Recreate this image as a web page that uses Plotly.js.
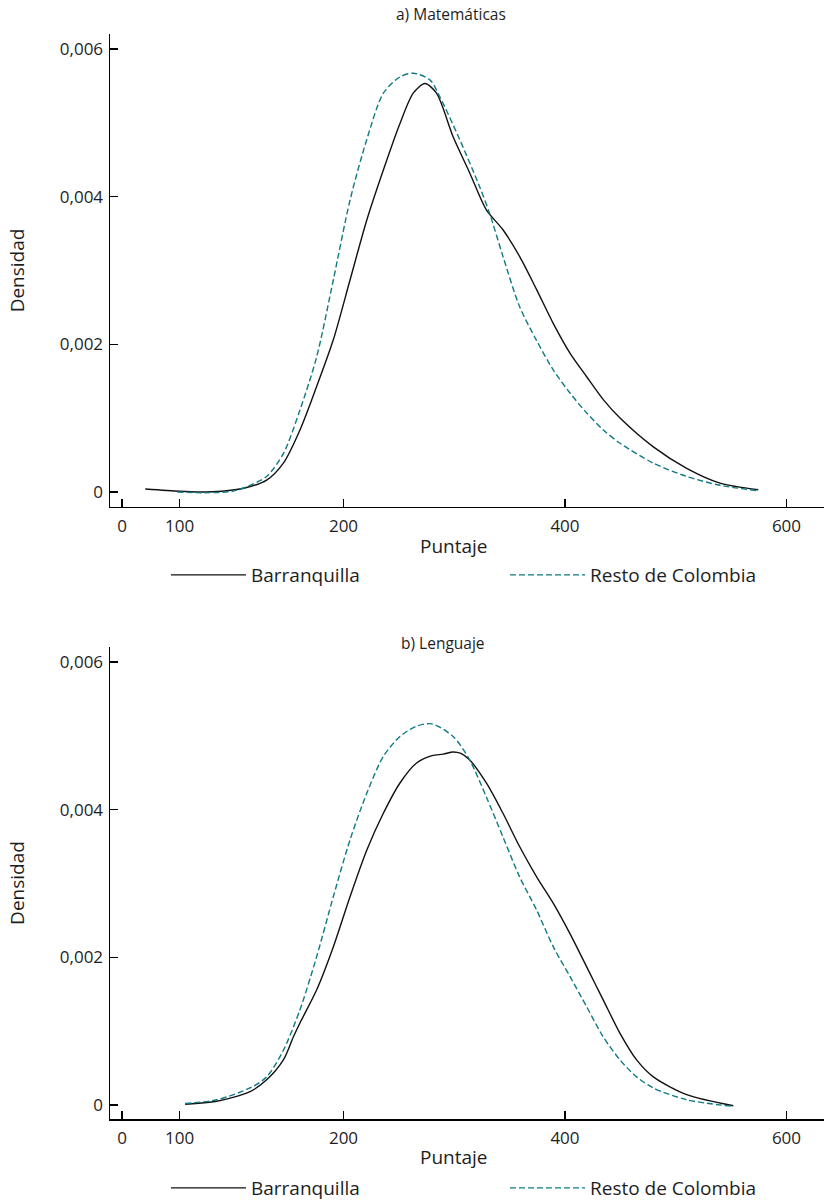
<!DOCTYPE html>
<html>
<head>
<meta charset="utf-8">
<script src="https://cdn.plot.ly/plotly-3.0.1.min.js"></script>
<style>html,body{margin:0;padding:0;background:#fff;}#chart{width:824px;height:1202px;}</style>
</head>
<body>
<div id="chart"></div>
<script>
// a) Matemáticas
const mathBarrX = [21, 52, 70, 90, 110, 130.6, 145.7, 160.7, 175.8, 190.8, 205.9, 221, 236, 251, 263, 273.6, 284, 299, 314, 329, 344, 359, 374.4, 389.5, 404.5, 419.6, 434.6, 449.7, 479.8, 509.9, 540, 574.5];
const mathBarrY = [0.00004, 0.00001, 0.0, 0.00001, 0.00005, 0.00016, 0.00039, 0.00084, 0.00143, 0.00206, 0.00287, 0.00368, 0.00436, 0.00499, 0.0054, 0.00553, 0.0054, 0.00481, 0.00432, 0.00382, 0.00355, 0.00319, 0.00274, 0.00228, 0.00188, 0.00156, 0.00125, 0.001, 0.00061, 0.00032, 0.00012, 0.00003];
const mathRestX = [50, 75, 100, 115.6, 130.6, 145.7, 160.7, 175.8, 190.8, 205.9, 221, 236, 251, 263, 278, 287, 305, 323, 332, 344, 359, 374, 389.5, 404.5, 419.6, 434.6, 449.7, 479.8, 509.9, 540, 573];
const mathRestY = [0.0, -0.00001, 0.00001, 0.00009, 0.00021, 0.00052, 0.00111, 0.00183, 0.00287, 0.00395, 0.00477, 0.0054, 0.00562, 0.00567, 0.00558, 0.00535, 0.00477, 0.00413, 0.00377, 0.00319, 0.00251, 0.00206, 0.00165, 0.00134, 0.00107, 0.00084, 0.00066, 0.00039, 0.00021, 0.00009, 0.00002];

// b) Lenguaje
const langBarrX = [57, 85.5, 115.6, 130.6, 145.7, 154.7, 160.7, 175.8, 190.8, 205.9, 221, 236, 251, 266, 280, 290, 299, 306, 314, 329, 344, 359, 374.4, 389.5, 404.5, 419.6, 434.6, 449.7, 464.7, 479.8, 509.9, 552];
const langBarrY = [0.00001, 0.00005, 0.00018, 0.00034, 0.00061, 0.00092, 0.00111, 0.00156, 0.00214, 0.00282, 0.00345, 0.00395, 0.00436, 0.00463, 0.00473, 0.00475, 0.00478, 0.00476, 0.00467, 0.00436, 0.00395, 0.0035, 0.00309, 0.00273, 0.00232, 0.00187, 0.00142, 0.00097, 0.00061, 0.00038, 0.00014, -0.00001];
const langRestX = [57, 85.5, 115.6, 130.6, 145.7, 160.7, 175.8, 190.8, 205.9, 221, 236, 251, 266, 280, 299, 314, 329, 344, 359, 374.4, 389.5, 404.5, 419.6, 434.6, 449.7, 464.7, 479.8, 509.9, 552];
const langRestY = [0.00002, 0.00007, 0.00023, 0.00038, 0.00074, 0.00129, 0.00201, 0.00282, 0.00359, 0.00422, 0.00472, 0.00499, 0.00513, 0.00516, 0.00499, 0.00467, 0.00417, 0.00363, 0.00309, 0.00264, 0.00214, 0.00174, 0.00133, 0.00092, 0.00061, 0.00038, 0.00023, 0.00007, -0.00002];

const xTickVals = [0, 52, 200, 400, 600];
const xTickText = ['0', '100', '200', '400', '600'];
const yTickVals = [0, 0.002, 0.004, 0.006];
const yTickText = ['0', '0,002', '0,004', '0,006'];

const seriesNames = ['Barranquilla', 'Resto de Colombia'];
const panelTitles = ['a) Matemáticas', 'b) Lenguaje'];

const FONT = '"Open Sans", Lato, sans-serif';
const TXT = '#1e1e1e';
const BLACK = '#111111';
const TEAL = '#0f7a82';

function line(x, y, name, xa, ya, color, dash, legend) {
  return {
    x: x, y: y, name: name, type: 'scatter', mode: 'lines',
    xaxis: xa, yaxis: ya, legend: legend,
    line: {color: color, width: 1.4, dash: dash, shape: 'spline', smoothing: 0.8},
    hoverinfo: 'skip'
  };
}

const data = [
  line(mathBarrX, mathBarrY, seriesNames[0], 'x', 'y', BLACK, 'solid', 'legend'),
  line(mathRestX, mathRestY, seriesNames[1], 'x', 'y', TEAL, '6px,3px', 'legend2'),
  line(langBarrX, langBarrY, seriesNames[0], 'x2', 'y2', BLACK, 'solid', 'legend3'),
  line(langRestX, langRestY, seriesNames[1], 'x2', 'y2', TEAL, '6px,3px', 'legend4')
];

function xaxis(anchor) {
  return {
    anchor: anchor, domain: [0, 1], range: [-10.84, 633.9],
    showline: true, linecolor: '#000', linewidth: 1.5, mirror: false,
    ticks: 'inside', ticklen: 8, tickwidth: 1.2, tickcolor: '#000',
    tickvals: xTickVals, ticktext: xTickText,
    showgrid: false, zeroline: false, fixedrange: true,
    ticklabelstandoff: 3,
    tickfont: {family: FONT, size: 17, color: TXT}
  };
}
function yaxis(anchor, domain, range) {
  return {
    anchor: anchor, domain: domain, range: range,
    showline: true, linecolor: '#000', linewidth: 1.5,
    ticks: 'inside', ticklen: 8, tickwidth: 1.5, tickcolor: '#000',
    tickvals: yTickVals, ticktext: yTickText,
    showgrid: false, zeroline: false, fixedrange: true,
    ticklabelstandoff: 2,
    tickfont: {family: FONT, size: 17, color: TXT},
    title: {text: 'Densidad', font: {family: FONT, size: 19, color: TXT}, standoff: 30}
  };
}

function legendAt(px, py) {
  return {
    orientation: 'h', xanchor: 'left', yanchor: 'middle',
    x: (px - 110) / 714, y: (1119 - py) / 1085,
    font: {family: FONT, size: 19, color: TXT},
    bgcolor: 'rgba(0,0,0,0)', itemwidth: 75
  };
}

const layout = {
  width: 824, height: 1202,
  margin: {l: 110, r: 0, t: 34, b: 83, autoexpand: false},
  paper_bgcolor: '#fff', plot_bgcolor: '#fff',
  font: {family: FONT, size: 16, color: TXT},
  showlegend: true,
  xaxis: xaxis('y'),
  yaxis: yaxis('x', [0.5641, 1], [-0.000203, 0.006201]),
  xaxis2: xaxis('y2'),
  yaxis2: yaxis('x2', [0, 0.4350], [-0.00019, 0.006201]),
  legend: legendAt(166, 575),
  legend2: legendAt(505, 575),
  legend3: legendAt(166, 1188),
  legend4: legendAt(505, 1188),
  annotations: [
    {text: panelTitles[0], xref: 'paper', yref: 'paper', x: (451 - 110) / 714, y: (1119 - 14) / 1085,
     xanchor: 'center', yanchor: 'middle', showarrow: false, font: {family: FONT, size: 15.5, color: TXT}},
    {text: panelTitles[1], xref: 'paper', yref: 'paper', x: (443 - 110) / 714, y: (1119 - 643) / 1085,
     xanchor: 'center', yanchor: 'middle', showarrow: false, font: {family: FONT, size: 15.5, color: TXT}},
    {text: 'Puntaje', xref: 'paper', yref: 'paper', x: (454 - 110) / 714, y: (1119 - 546) / 1085,
     xanchor: 'center', yanchor: 'middle', showarrow: false, font: {family: FONT, size: 19, color: TXT}},
    {text: 'Puntaje', xref: 'paper', yref: 'paper', x: (454 - 110) / 714, y: (1119 - 1157) / 1085,
     xanchor: 'center', yanchor: 'middle', showarrow: false, font: {family: FONT, size: 19, color: TXT}}
  ]
};

Plotly.newPlot('chart', data, layout, {displayModeBar: false, staticPlot: true});
</script>
</body>
</html>
